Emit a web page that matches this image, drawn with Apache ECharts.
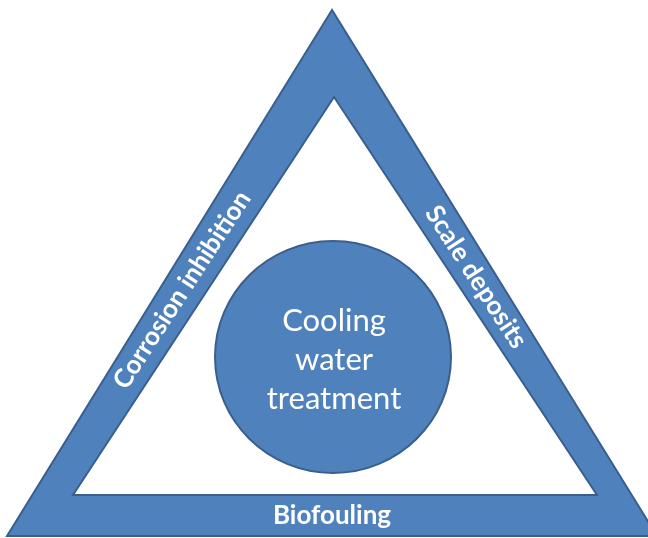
<!DOCTYPE html>
<html>
<head>
<meta charset="utf-8">
<script src="https://cdn.jsdelivr.net/npm/echarts@6/dist/echarts.min.js"></script>
<style>
html,body{margin:0;padding:0;background:#fff;}
#main{width:648px;height:538px;}
</style>
</head>
<body>
<div id="main"></div>
<script>
// Diagram text content
var sideLabels = ['Corrosion inhibition', 'Scale deposits', 'Biofouling'];
var centerLines = ['Cooling', 'water', 'treatment'];

// Geometry (layout only)
var outerTri = [[332, 10], [7, 536], [657, 536]];
var innerTri = [[334, 97], [73, 495], [597, 495]];
var circle = { cx: 333, cy: 357, rx: 118, ry: 116 };
var FILL = '#4F81BD', STROKE = '#3A5F8C';
var ang = 57 * Math.PI / 180;

var chart = echarts.init(document.getElementById('main'), null, { renderer: 'canvas' });
chart.setOption({
  backgroundColor: '#ffffff',
  graphic: [
    { type: 'polygon', shape: { points: outerTri }, style: { fill: FILL, stroke: STROKE, lineWidth: 2 } },
    { type: 'polygon', shape: { points: innerTri }, style: { fill: '#ffffff', stroke: STROKE, lineWidth: 2 } },
    { type: 'ellipse', shape: circle, style: { fill: FILL, stroke: STROKE, lineWidth: 2 } },
    { type: 'text', x: 334, y: 360, style: { text: centerLines.join('\n'), fill: '#fff', font: '31px Lato', lineHeight: 39, textAlign: 'center', textVerticalAlign: 'middle', align: 'center', verticalAlign: 'middle' } },
    { type: 'text', x: 182, y: 290, rotation: ang, style: { text: sideLabels[0], fill: '#fff', font: 'bold 26px Lato', textAlign: 'center', textVerticalAlign: 'middle', align: 'center', verticalAlign: 'middle' } },
    { type: 'text', x: 476, y: 277, rotation: -ang, style: { text: sideLabels[1], fill: '#fff', font: 'bold 26px Lato', textAlign: 'center', textVerticalAlign: 'middle', align: 'center', verticalAlign: 'middle' } },
    { type: 'text', x: 332, y: 516, style: { text: sideLabels[2], fill: '#fff', font: 'bold 26px Lato', textAlign: 'center', textVerticalAlign: 'middle', align: 'center', verticalAlign: 'middle' } }
  ]
});
</script>
</body>
</html>
